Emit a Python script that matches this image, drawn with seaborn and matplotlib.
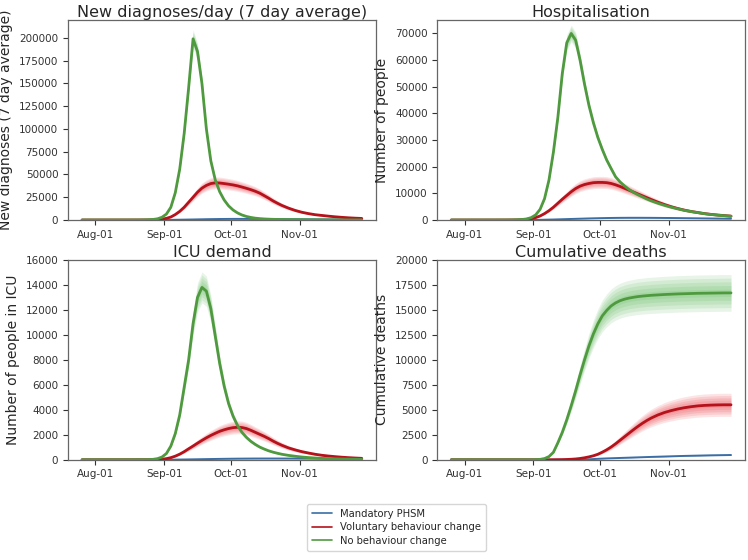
import pandas as pd
import numpy as np
import seaborn as sns
import matplotlib
matplotlib.use("Agg")
import matplotlib.pyplot as plt
import matplotlib.dates as mdates
from matplotlib.lines import Line2D

# model output: every 3 days at the start and end, every 2 days in the middle
dates = (pd.date_range("2021-07-26", periods=11, freq="3D")
         .append(pd.date_range("2021-08-27", periods=30, freq="2D"))
         .append(pd.date_range("2021-10-27", periods=12, freq="3D")))

scenarios = ["Mandatory PHSM", "Voluntary behaviour change", "No behaviour change"]
line_colors = ["#3a6ea5", "#b5121b", "#4f9a3f"]
band_colors = ["#3b75af", "#e8303a", "#4daf4a"]

# new diagnoses per day (7 day average)
diag_blue = ([0]*11 +
             [0, 10, 30, 80, 150, 220, 300, 380, 470, 560, 650, 750, 850, 930, 1000,
              1070, 1120, 1160, 1190, 1200, 1200, 1180, 1160, 1130, 1100, 1070, 1040,
              1000, 970, 940] +
             [900, 850, 800, 750, 700, 650, 600, 560, 520, 480, 450, 420])
diag_red = ([0, 0, 0, 0, 5, 10, 15, 25, 40, 60, 100] +
            [200, 450, 900, 1800, 3300, 6000, 9500, 14000, 19500, 25000, 30500, 35000,
             38000, 40000, 40800, 40600, 40000, 39300, 38500, 37500, 36200, 34800, 33300,
             31600, 29500, 26800, 24000, 21000, 18400, 16000] +
            [13000, 10500, 8500, 7000, 5800, 5000, 4200, 3500, 2900, 2400, 2000, 1700])
diag_green = ([5, 6, 8, 10, 13, 17, 22, 30, 50, 100, 300] +
              [600, 1300, 3000, 6500, 14000, 30000, 56000, 95000, 145000, 199000, 185000,
               150000, 100000, 65000, 44000, 31000, 22000, 15500, 11000, 7800, 5500, 3900,
               2800, 2000, 1500, 1150, 900, 720, 600, 500] +
              [400, 320, 260, 210, 175, 150, 130, 115, 100, 90, 80, 70])

# hospitalisation
hosp_blue = ([0]*11 +
             [0, 5, 15, 40, 70, 100, 140, 180, 230, 280, 330, 380, 430, 480, 530, 580,
              620, 660, 700, 730, 760, 780, 800, 810, 820, 820, 820, 815, 810, 800] +
             [780, 760, 740, 710, 680, 650, 620, 590, 560, 530, 500, 480])
hosp_red = ([0, 0, 0, 0, 0, 1, 3, 6, 12, 25, 50] +
            [120, 250, 500, 900, 1500, 2400, 3500, 4800, 6300, 7800, 9200, 10600, 11800,
             12700, 13300, 13700, 14000, 14100, 14100, 14000, 13700, 13200, 12600, 11900,
             11200, 10500, 9800, 9100, 8400, 7700] +
            [6700, 5800, 5000, 4300, 3700, 3200, 2800, 2400, 2100, 1850, 1650, 1450])
hosp_green = ([0, 0, 0, 0, 1, 2, 4, 8, 15, 30, 100] +
              [200, 400, 900, 1900, 4000, 8000, 15000, 25500, 38500, 55000, 66500, 70000,
               67500, 60000, 51000, 43000, 36500, 31000, 26500, 22500, 19300, 16200,
               14300, 12800, 11500, 10400, 9500, 8700, 7900, 7200] +
              [6300, 5500, 4800, 4200, 3600, 3150, 2750, 2350, 2050, 1800, 1600, 1400])

# ICU demand
icu_blue = ([0]*11 +
            [0, 0, 2, 5, 8, 12, 17, 22, 28, 34, 40, 46, 52, 58, 64, 70, 75, 80, 84, 88,
             91, 94, 96, 98, 99, 100, 100, 100, 100, 99] +
            [98, 96, 94, 92, 90, 88, 86, 84, 82, 80, 78, 76])
icu_red = ([0, 0, 0, 0, 0, 0, 0, 1, 2, 4, 6] +
           [10, 20, 45, 90, 170, 290, 450, 650, 880, 1100, 1330, 1550, 1760, 1950, 2120,
            2280, 2400, 2500, 2570, 2600, 2580, 2500, 2360, 2200, 2040, 1880, 1700, 1500,
            1320, 1160] +
           [950, 790, 650, 540, 440, 360, 300, 250, 205, 170, 140, 115])
icu_green = ([0, 0, 0, 0, 0, 0, 1, 1, 3, 5, 10] +
             [35, 90, 220, 500, 1100, 2100, 3600, 5800, 8000, 10900, 13000, 13800, 13500,
              12100, 9900, 7700, 5900, 4500, 3500, 2750, 2200, 1800, 1480, 1230, 1020,
              860, 720, 610, 520, 440] +
             [350, 280, 220, 175, 140, 110, 90, 75, 62, 52, 45, 40])

# cumulative deaths
deaths_blue = ([0]*11 +
               [0]*13 + [0, 20, 45, 70, 95, 115, 135, 150, 165, 180, 195, 210, 225, 240,
                         255, 270, 285] +
               [305, 325, 345, 365, 385, 400, 415, 430, 445, 455, 465, 475])
deaths_red = ([0]*11 +
              [0]*7 + [5, 10, 15, 30, 50, 80, 130, 200, 290, 400, 550, 760, 1000, 1280,
                       1600, 1950, 2300, 2650, 3000, 3330, 3640, 3920, 4170] +
              [4480, 4730, 4920, 5080, 5210, 5310, 5390, 5440, 5470, 5490, 5500, 5500])
deaths_green = ([0]*11 +
                [0, 0, 0, 10, 40, 120, 320, 750, 1700, 2750, 4000, 5400, 6900, 8500,
                 10000, 11400, 12600, 13600, 14400, 14950, 15400, 15700, 15920, 16070,
                 16180, 16260, 16330, 16380, 16420, 16460] +
                [16500, 16540, 16570, 16600, 16620, 16640, 16660, 16670, 16680, 16690,
                 16700, 16700])

# outer width of the simulation fan, as a fraction of the median
spread = {
    "diag": [0.10, 0.16, 0.05],
    "hosp": [0.10, 0.16, 0.045],
    "icu": [0.10, 0.20, 0.09],
    "deaths": [0.10, 0.21, 0.11],
}

panels = [
    ("diag", "New diagnoses/day (7 day average)", "New diagnoses (7 day average)",
     [diag_blue, diag_red, diag_green], 219500),
    ("hosp", "Hospitalisation", "Number of people",
     [hosp_blue, hosp_red, hosp_green], 75000),
    ("icu", "ICU demand", "Number of people in ICU",
     [icu_blue, icu_red, icu_green], 16000),
    ("deaths", "Cumulative deaths", "Cumulative deaths",
     [deaths_blue, deaths_red, deaths_green], 20000),
]

sns.set_style("white")
plt.rcParams["font.family"] = ["DejaVu Sans"]

fig, axes = plt.subplots(2, 2, figsize=(7.48, 5.6), dpi=100)
fig.subplots_adjust(left=0.091, right=0.996, top=0.964, bottom=0.179,
                    wspace=0.2, hspace=0.2)

for ax, (key, title, ylab, series, ytop) in zip(axes.flat, panels):
    for i, vals in enumerate(series):
        v = np.array(vals, dtype=float)
        for lvl in [1.0, 0.8, 0.6, 0.4, 0.2]:
            f = spread[key][i] * lvl
            ax.fill_between(dates, v * (1 - f), v * (1 + f), color=band_colors[i],
                            alpha=0.13, linewidth=0, zorder=1 + i)
        df = pd.DataFrame({"date": dates, "value": v})
        sns.lineplot(data=df, x="date", y="value", ax=ax, color=line_colors[i],
                     linewidth=2.0 if i else 1.4, zorder=2 + i)
    ax.set_ylim(0, ytop)
    ax.set_title(title, fontsize=11.5, pad=2)
    ax.set_ylabel(ylab, fontsize=10)
    ax.set_xlabel("")
    ax.xaxis.set_major_locator(mdates.MonthLocator(bymonth=[8, 9, 10, 11]))
    ax.xaxis.set_major_formatter(mdates.DateFormatter("%b-%d"))
    ax.tick_params(labelsize=7.5, colors="#333333", length=3.5, width=0.8,
                   left=True, bottom=True)
    for sp in ax.spines.values():
        sp.set_color("#666666")
        sp.set_linewidth(0.9)

handles = [Line2D([], [], color=c, linewidth=1.2) for c in line_colors]
fig.legend(handles, scenarios, loc="lower center", bbox_to_anchor=(0.53, 0.008),
           fontsize=7.2, frameon=True, edgecolor="#cccccc", handlelength=2.0,
           borderpad=0.5, labelspacing=0.35)

fig.savefig("out.png", dpi=100)
